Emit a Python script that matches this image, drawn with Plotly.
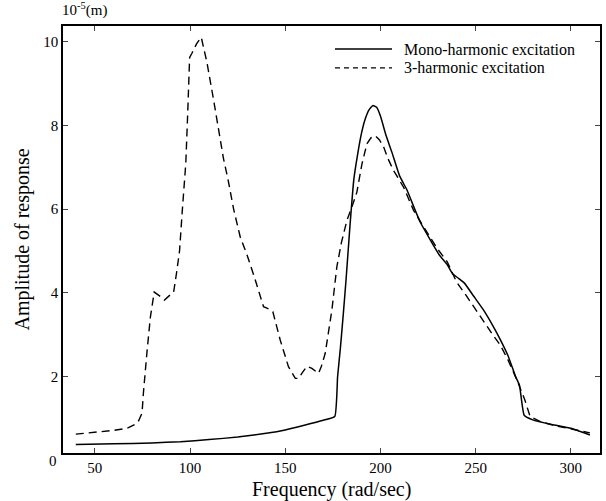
import plotly.graph_objects as go

# Mono-harmonic excitation (solid)
mono_freq = [40, 60, 80, 95, 110, 125, 140, 150, 160, 170, 176, 177.5, 179, 180.5, 182, 184, 186, 188,
             190, 192, 194, 196, 198, 200, 203, 206, 210, 214, 218, 221, 226, 231, 235, 238, 241, 244,
             249, 254, 259, 263, 267, 271, 273, 275.5, 280, 290, 300, 310]
mono_amp = [0.38, 0.40, 0.42, 0.45, 0.50, 0.56, 0.65, 0.73, 0.84, 0.96, 1.05, 2.0, 2.7, 3.5, 4.35, 5.6, 6.7, 7.3,
            7.8, 8.15, 8.37, 8.47, 8.43, 8.22, 7.75, 7.36, 6.8, 6.45, 6.0, 5.68, 5.28, 4.9, 4.68, 4.45, 4.35, 4.24,
            3.92, 3.6, 3.22, 2.88, 2.5, 2.0, 1.8, 1.08, 0.97, 0.86, 0.77, 0.61]

# 3-harmonic excitation (dashed)
tri_freq = [40, 50, 60, 67, 71, 73, 74.8, 75.5, 76.5, 77.5, 79.2, 81.2, 84, 86.6, 89, 91.4, 93, 94.5, 96,
            97.8, 98.8, 99.8, 101, 103.5, 105.9, 108.9, 112.4, 115.5, 117.6, 120, 122.9, 126.4, 130, 134,
            138.6, 140.7, 143.5, 147.4, 151.7, 155.3, 157, 159, 161.4, 164, 167.5, 169, 171, 174.5, 177.1,
            179.5, 182.4, 185, 187.6, 190.3, 192.9, 195, 197.3, 199.5, 201.7, 204, 206.9, 212.2, 217.4, 221,
            226.3, 230, 235, 238, 240, 245, 250, 255, 259, 263, 267, 271.7, 273.2, 275.8, 278.6, 284, 290,
            300, 310]
tri_amp = [0.63, 0.67, 0.72, 0.77, 0.86, 0.95, 1.13, 1.6, 2.2, 2.64, 3.43, 4.02, 3.93, 3.83, 3.93, 4.02, 4.5, 5.0, 6.0,
           7.1, 8.3, 9.62, 9.72, 9.95, 10.1, 9.5, 8.6, 7.7, 7.2, 6.7, 6.0, 5.33, 4.9, 4.35,
           3.67, 3.63, 3.55, 2.87, 2.24, 1.96, 1.96, 2.1, 2.25, 2.2, 2.08, 2.25, 2.56, 3.59, 4.62,
           5.2, 5.73, 6.05, 6.4, 7.08, 7.56, 7.7, 7.75, 7.65, 7.48, 7.2, 6.92, 6.52, 5.97, 5.7,
           5.33, 5.05, 4.75, 4.45, 4.26, 3.94, 3.6, 3.28, 3.0, 2.75, 2.4, 1.92, 1.76, 1.45, 1.05, 0.93, 0.85,
           0.76, 0.66]

x_ticks = [50, 100, 150, 200, 250, 300]
y_ticks = [2, 4, 6, 8, 10]
legend_labels = ["Mono-harmonic excitation", "3-harmonic excitation"]
x_title = "Frequency (rad/sec)"
y_title = "Amplitude of response"
unit_label = "10<sup>-5</sup>(m)"

FONT = "Liberation Serif"
Y_RANGE = [0.18, 10.37]

fig = go.Figure()
fig.add_trace(go.Scatter(x=mono_freq, y=mono_amp, mode="lines",
                         line=dict(color="black", width=1.5, shape="spline", smoothing=0.4),
                         showlegend=False, hoverinfo="skip"))
fig.add_trace(go.Scatter(x=tri_freq, y=tri_amp, mode="lines",
                         line=dict(color="black", width=1.4, dash="8px,5px"), showlegend=False,
                         hoverinfo="skip"))

fig.update_layout(
    width=606, height=501,
    margin=dict(l=63, r=6, t=26, b=48),
    paper_bgcolor="white", plot_bgcolor="white",
    font=dict(family=FONT, color="black", size=15),
    xaxis=dict(range=[33.3, 315.3], tickvals=x_ticks, ticks="inside", ticklen=5, tickwidth=1,
               showline=True, linecolor="black", linewidth=1.5, mirror="ticks", showgrid=False,
               zeroline=False, tickfont=dict(size=15), automargin=False),
    yaxis=dict(range=Y_RANGE, tickvals=y_ticks, ticks="inside", ticklen=5, tickwidth=1,
               showline=True, linecolor="black", linewidth=1.5, mirror="ticks", showgrid=False,
               zeroline=False, tickfont=dict(size=15), automargin=False),
)

# axis titles
fig.add_annotation(x=0.5, xref="paper", y=0, yref="paper", text=x_title, showarrow=False,
                   xanchor="center", yanchor="top", yshift=-23, font=dict(size=20))
fig.add_annotation(x=0, xref="paper", y=0.5, yref="paper", text=y_title, showarrow=False,
                   textangle=-90, xanchor="center", yanchor="middle", xshift=-41, font=dict(size=20))

# "0" label at the bottom of the y axis (value 0 lies just below the frame)
zero_pos = (0 - Y_RANGE[0]) / (Y_RANGE[1] - Y_RANGE[0])
fig.add_annotation(x=0, xref="paper", y=zero_pos, yref="paper", text="0", showarrow=False,
                   xanchor="right", yanchor="middle", xshift=-4, font=dict(size=15))
# unit label
fig.add_annotation(x=0, xref="paper", y=1, yref="paper", text=unit_label, showarrow=False,
                   xanchor="left", yanchor="bottom", yshift=5, xshift=-3, font=dict(size=15))

# manual legend
leg_rows = [0.946, 0.902]
dashes = ["solid", "5px,4px"]
for lbl, yy, dsh in zip(legend_labels, leg_rows, dashes):
    fig.add_shape(type="line", xref="paper", yref="paper", x0=0.5065, x1=0.6127, y0=yy, y1=yy,
                  line=dict(color="black", width=1.4, dash=dsh))
    fig.add_annotation(x=0.6307, xref="paper", y=yy, yref="paper", text=lbl, showarrow=False,
                       xanchor="left", yanchor="middle", font=dict(size=16))

fig.write_html("out.html", config={"displayModeBar": False},
               post_script="document.body.style.margin='0px';document.body.style.overflow='hidden';")
